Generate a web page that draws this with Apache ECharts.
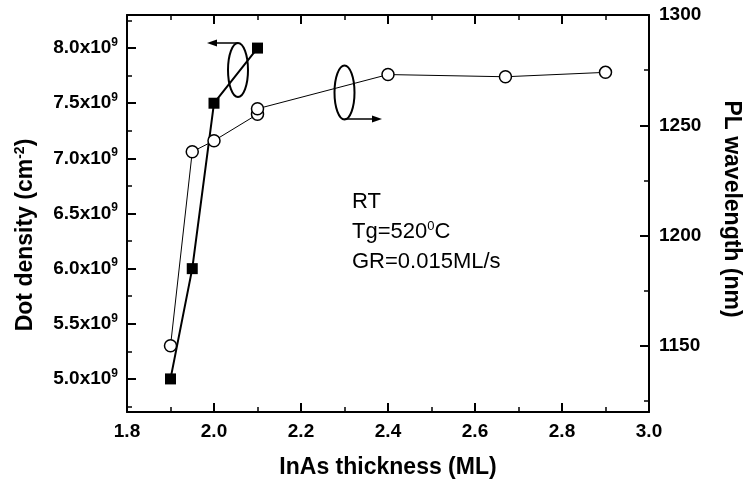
<!DOCTYPE html>
<html><head><meta charset="utf-8">
<script src="https://cdn.jsdelivr.net/npm/echarts@6/dist/echarts.min.js"></script>
<style>html,body{margin:0;padding:0;background:#fff}#c{width:743px;height:485px}</style>
</head><body><div id="c"></div>
<script>
// ---- data ----
const thicknessDensity = [1.9, 1.95, 2.0, 2.1];
const dotDensity = [5.0e9, 6.0e9, 7.5e9, 8.0e9];
const thicknessPL = [1.9, 1.95, 2.0, 2.1, 2.1, 2.4, 2.67, 2.9];
const plWavelength = [1150, 1238, 1243, 1255, 1257.5, 1273, 1272, 1274];
const xRange = [1.8, 3.0];
const xStep = 0.2;
const densityRange = [4.7e9, 8.3e9];
const densityStep = 0.5e9;
const wavelengthRange = [1120, 1300];
const wavelengthStep = 50;
const xTitle = 'InAs thickness (ML)';
const leftTitle = 'Dot density (cm{sup|-2})';
const rightTitle = 'PL wavelength (nm)';
const notes = ['RT', 'Tg=520{sup|0}C', 'GR=0.015ML/s'];

const FF = 'Liberation Sans';
const chart = echarts.init(document.getElementById('c'));

function isMult(v, step) { const r = v / step; return Math.abs(r - Math.round(r)) < 1e-6; }

function axisLine() { return {show: true, onZero: false, lineStyle: {color: '#000', width: 2}}; }
function axisTick() { return {show: true, inside: true, length: 9, lineStyle: {color: '#000', width: 2}}; }
function minorTick() { return {show: true, splitNumber: 2, length: 5, lineStyle: {color: '#000', width: 1.5}}; }
function lbl(extra) { return Object.assign({color: '#000', fontSize: 19, fontWeight: 'bold', fontFamily: FF}, extra); }

function xAxis(pos, showLabel) {
  return {
    type: 'value', position: pos, min: xRange[0], max: xRange[1], interval: xStep,
    axisLine: axisLine(), axisTick: axisTick(), minorTick: minorTick(), splitLine: {show: false},
    axisLabel: lbl({show: showLabel, margin: 10, formatter: v => v.toFixed(1)})
  };
}

const option = {
  animation: false,
  backgroundColor: '#fff',
  grid: {left: 127, right: 94, top: 15, bottom: 73},
  xAxis: [xAxis('bottom', true), xAxis('top', false)],
  yAxis: [
    {
      type: 'value', position: 'left', min: densityRange[0], max: densityRange[1],
      minInterval: densityStep, maxInterval: densityStep,
      axisLine: axisLine(), axisTick: axisTick(), minorTick: minorTick(), splitLine: {show: false},
      axisLabel: lbl({
        margin: 9,
        formatter: v => isMult(v, densityStep) ? (v / 1e9).toFixed(1) + 'x10{sup|9}' : '',
        rich: {sup: {fontSize: 12, fontWeight: 'bold', fontFamily: FF, color: '#000', padding: [0, 0, 11, 0]}}
      })
    },
    {
      type: 'value', position: 'right', min: wavelengthRange[0], max: wavelengthRange[1],
      minInterval: wavelengthStep, maxInterval: wavelengthStep,
      axisLine: axisLine(), axisTick: axisTick(), minorTick: minorTick(), splitLine: {show: false},
      axisLabel: lbl({
        margin: 10,
        formatter: v => isMult(v, wavelengthStep) ? String(v) : ''
      })
    }
  ],
  series: [
    {
      type: 'line', xAxisIndex: 0, yAxisIndex: 0,
      data: thicknessDensity.map((x, i) => [x, dotDensity[i]]),
      symbol: 'rect', symbolSize: 11,
      lineStyle: {color: '#000', width: 2},
      itemStyle: {color: '#000', borderWidth: 0},
      z: 3
    },
    {
      type: 'line', xAxisIndex: 0, yAxisIndex: 1,
      data: thicknessPL.map((x, i) => [x, plWavelength[i]]),
      symbol: 'circle', symbolSize: 12,
      lineStyle: {color: '#000', width: 1},
      itemStyle: {color: '#fff', borderColor: '#000', borderWidth: 1.5},
      z: 4
    }
  ],
  graphic: [
    {type: 'text', x: 388, y: 468, style: {text: xTitle, fontSize: 23, fontWeight: 'bold', fontFamily: FF, fill: '#000', align: 'center', verticalAlign: 'middle'}},
    {type: 'text', x: 26, y: 235, rotation: Math.PI / 2, style: {text: leftTitle, fontSize: 23, fontWeight: 'bold', fontFamily: FF, fill: '#000', align: 'center', verticalAlign: 'middle',
      rich: {sup: {fontSize: 14, fontWeight: 'bold', fontFamily: FF, fill: '#000', padding: [0, 0, 12, 0]}}}},
    {type: 'text', x: 731, y: 209, rotation: -Math.PI / 2, style: {text: rightTitle, fontSize: 23, fontWeight: 'bold', fontFamily: FF, fill: '#000', align: 'center', verticalAlign: 'middle'}},
    {type: 'text', x: 352, y: 202, style: {text: notes[0], fontSize: 22, fontFamily: FF, fill: '#000', align: 'left', verticalAlign: 'middle'}},
    {type: 'text', x: 352, y: 232, style: {text: notes[1], fontSize: 22, fontFamily: FF, fill: '#000', align: 'left', verticalAlign: 'middle',
      rich: {sup: {fontSize: 13, fontFamily: FF, fill: '#000', padding: [0, 0, 11, 0]}}}},
    {type: 'text', x: 352, y: 262, style: {text: notes[2], fontSize: 22, fontFamily: FF, fill: '#000', align: 'left', verticalAlign: 'middle'}},
    // annotation ellipses and arrows
    {type: 'ellipse', shape: {cx: 238, cy: 70, rx: 10, ry: 27}, style: {fill: 'none', stroke: '#000', lineWidth: 2}},
    {type: 'line', shape: {x1: 238, y1: 43, x2: 214, y2: 43}, style: {stroke: '#000', lineWidth: 1.5}},
    {type: 'polygon', shape: {points: [[207, 43], [217, 39.5], [217, 46.5]]}, style: {fill: '#000'}},
    {type: 'ellipse', shape: {cx: 344.5, cy: 92.5, rx: 10, ry: 27}, style: {fill: 'none', stroke: '#000', lineWidth: 2}},
    {type: 'line', shape: {x1: 344.5, y1: 119, x2: 374, y2: 119}, style: {stroke: '#000', lineWidth: 1.5}},
    {type: 'polygon', shape: {points: [[382, 119], [372, 115.5], [372, 122.5]]}, style: {fill: '#000'}}
  ]
};
chart.setOption(option);
</script></body></html>
